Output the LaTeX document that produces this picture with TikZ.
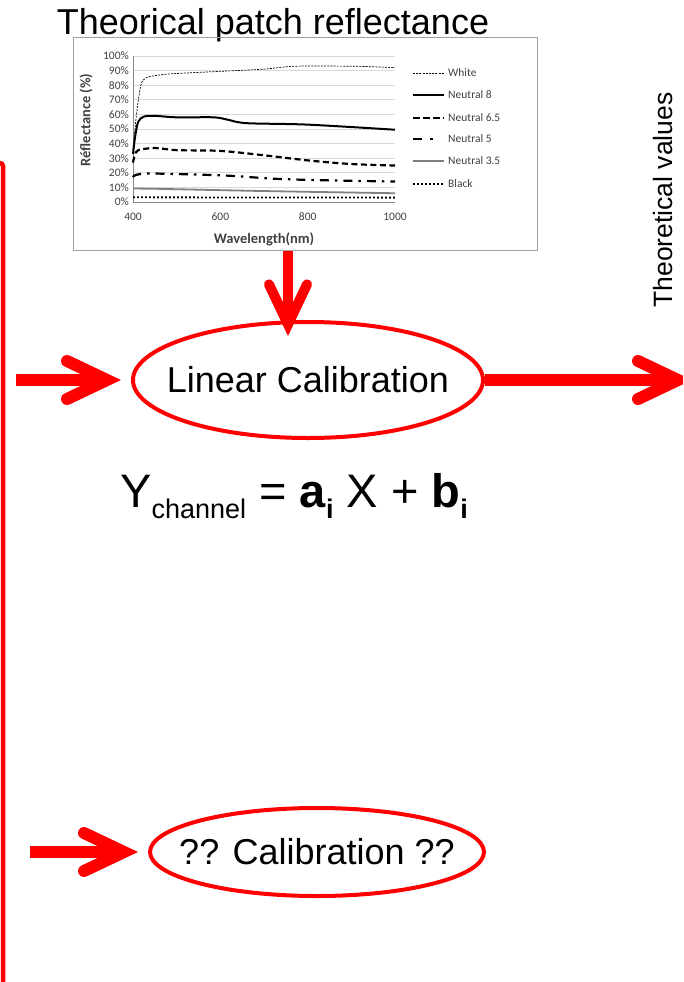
\documentclass[tikz,border=0pt]{standalone}
\usepackage{fontspec}
\setmainfont{Liberation Sans}
\newfontfamily\chartfont{Carlito}
\usetikzlibrary{arrows.meta,shapes.geometric}
\definecolor{gridgray}{HTML}{D9D9D9}
\definecolor{axgray}{HTML}{868686}
\definecolor{txtgray}{HTML}{404040}
\definecolor{framegray}{HTML}{A0A0A0}
\definecolor{n35gray}{HTML}{7F7F7F}
\tikzset{
  redarrow/.style={draw=red, line width=12pt,
    -{Straight Barb[line cap=round, line join=miter, length=40pt, width=38pt]}},
  calib/.style={ellipse, draw=red, line width=4pt, inner sep=0pt,
    font=\fontsize{36}{40}\selectfont},
  ticklbl/.style={font=\chartfont\fontsize{11.5}{13}\selectfont, text=txtgray, inner sep=0pt},
  leglbl/.style={font=\chartfont\fontsize{11.5}{13}\selectfont, text=txtgray, inner sep=0pt, anchor=west},
  axlbl/.style={font=\chartfont\bfseries\fontsize{14.5}{16}\selectfont, text=txtgray, inner sep=0pt},
  cwhite/.style={black, line width=0.7pt, dash pattern=on 2pt off 1.2pt},
  cneight/.style={black, line width=2pt},
  csixfive/.style={black, line width=2.2pt, dash pattern=on 6pt off 3.5pt},
  cfive/.style={black, line width=2.2pt, dash pattern=on 9pt off 6pt on 2.5pt off 6pt},
  cthreefive/.style={n35gray, line width=1.8pt},
  cblack/.style={black, line width=1.8pt, dash pattern=on 1.8pt off 2.2pt},
}
\begin{document}
\begin{tikzpicture}[x=1pt,y=-1pt]
\useasboundingbox (0,0) rectangle (683,982);
\clip (0,0) rectangle (683,982);

% title
\node[anchor=base, inner sep=0pt, font=\fontsize{36}{40}\selectfont] (title) at (273,35) {Theorical patch reflectance};

% chart frame
\node[draw=framegray, line width=1pt, minimum width=464pt, minimum height=213pt, inner sep=0pt, anchor=north west] (chart) at (73,37) {};

% plot area
\begin{scope}[shift={(133,202)}, x=0.43667pt, y=1.46pt]
  \foreach \r in {10,20,...,100} \draw[gridgray, line width=0.8pt] (0,\r) -- (600,\r);
  \draw[axgray, line width=0.8pt] (0,0) -- (600,0);
  \draw[axgray, line width=0.8pt] (0,0) -- (0,100);
  \foreach \r in {0,10,...,100} \node[ticklbl, anchor=east] (yt\r) at (-9,\r) {\r\%};
  \foreach \w/\l in {0/400,200/600,400/800,600/1000} \node[ticklbl] (xt\l) at (\w,-9.8) {\l};
  % curves
  \draw[cblack] (0,3.2) -- (600,3);
  \draw[cthreefive] plot[smooth] coordinates {(0,9.2) (60,9) (300,7.5) (600,6)};
  \draw[cfive] plot[smooth] coordinates {(0,17) (6,18.5) (35,19.5) (120,19) (220,18) (320,16) (420,15) (600,14)};
  \draw[csixfive] plot[smooth] coordinates {(0,27) (4,32) (12,35.5) (50,37) (100,35.5) (200,35) (300,32) (400,28.5) (500,26) (600,25)};
  \draw[cneight] plot[smooth] coordinates {(0,33) (5,45) (12,55) (25,58.5) (50,59) (100,58) (185,58) (215,56.5) (260,54) (400,53) (600,49.5)};
  \draw[cwhite] plot[smooth] coordinates {(0,36) (8,60) (18,80) (30,85) (60,87) (100,88) (200,89.5) (300,91) (370,93) (500,93) (560,92.5) (600,92)};
\end{scope}
\node[axlbl] (xlab) at (264,239) {Wavelength(nm)};
\node[axlbl, rotate=90] (ylab) at (86,120) {Réflectance (\%)};

% legend
\draw[cwhite] (413,73) -- (444,73);
\node[leglbl] (lw) at (448,73) {White};
\draw[cneight] (413,95) -- (444,95);
\node[leglbl] (l8) at (448,95) {Neutral 8};
\draw[csixfive, dash pattern=on 7pt off 3pt] (413,118) -- (444,118);
\node[leglbl] (l65) at (448,118) {Neutral 6.5};
\draw[cfive, dash pattern=on 9pt off 8pt on 2.5pt off 20pt] (413,139) -- (444,139);
\node[leglbl] (l5) at (448,139) {Neutral 5};
\draw[cthreefive] (413,161) -- (444,161);
\node[leglbl] (l35) at (448,161) {Neutral 3.5};
\draw[cblack] (413,184) -- (444,184);
\node[leglbl] (lb) at (448,184) {Black};

% Theoretical values
\node[rotate=90, inner sep=0pt, font=\fontsize{26.5}{30}\selectfont] (theo) at (663,200) {Theoretical values};

% ellipses
\node[calib, minimum width=350pt, minimum height=116pt] (lin) at (308,380) {\makebox[0pt]{Linear Calibration}};
\node[calib, minimum width=334pt, minimum height=88pt] (unk) at (317,852) {\makebox[0pt]{?? Calibration ??}};

% equation
\node[anchor=base east, inner sep=0pt, font=\fontsize{47}{50}\selectfont] (eq) at (468,507)
  {Y\raisebox{-11pt}{\fontsize{27}{30}\selectfont channel} = \textbf{a}\raisebox{-11pt}{\fontsize{27}{30}\selectfont\bfseries i} X + \textbf{b}\raisebox{-11pt}{\fontsize{27}{30}\selectfont\bfseries i}};

% left red line
\draw[red, line width=4.5pt, rounded corners=3pt] (-20,163) -- (3,163) -- (3,1000);

% arrows
\coordinate (dtip) at (288,336);
\draw[redarrow, line width=10pt] (chart.south -| dtip) -- (dtip);
\coordinate (lstart) at (16,380);
\coordinate (ltip) at (121,380);
\draw[redarrow] (lstart) -- (ltip);
\coordinate (rtip) at (692,380);
\draw[redarrow] (lin.east) -- (rtip);
\coordinate (bstart) at (30,852);
\coordinate (btip) at (138,852);
\draw[redarrow] (bstart) -- (btip);
\end{tikzpicture}
\end{document}
